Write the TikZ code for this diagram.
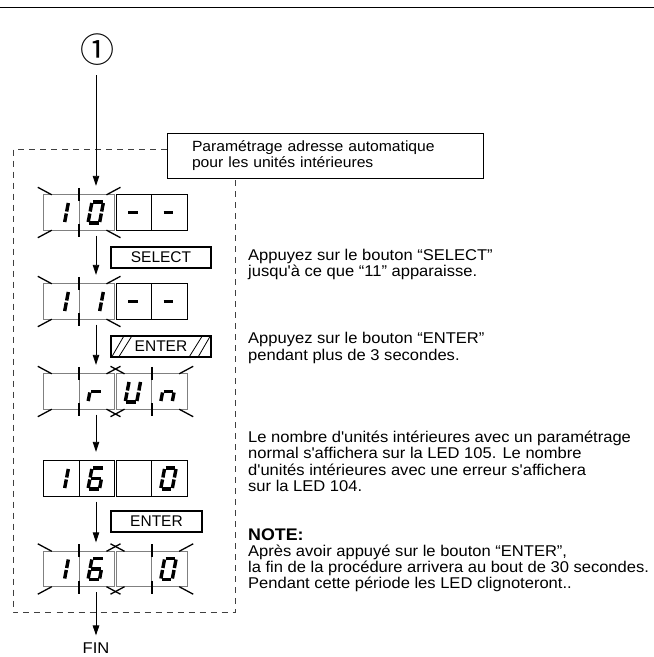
\documentclass[tikz,border=0pt]{standalone}
\usepackage{fontspec}
\usepackage{tikz}
\usetikzlibrary{arrows.meta, calc, positioning}
\newfontfamily\notefont{Liberation Sans}[FakeStretch=1.06]
\newfontfamily\keyfont{Liberation Sans}
\newfontfamily\symfont{Noto Sans CJK JP}
\definecolor{blinkgray}{gray}{0.5}
\definecolor{framegray}{gray}{0.25}

\tikzset{
  panel/.style={minimum width=143pt, minimum height=35pt, inner sep=0pt},
  onbox/.style={draw=black, line width=1.2pt},
  blinkline/.style={draw=blinkgray, line width=1pt},
  tick/.style={draw=black, line width=1.4pt},
  ray/.style={draw=black, line width=1.3pt},
  seg/.style={line width=3.4pt, shorten <=1pt, shorten >=1pt},
  flow/.style={-{Triangle[length=10pt,width=6.5pt]}, line width=0.9pt, shorten <=5.5pt, shorten >=9pt},
  key/.style={draw, line width=1.4pt, minimum width=100pt, minimum height=21pt, inner sep=0pt, font=\keyfont\fontsize{15.5}{16}\selectfont},
  hatch/.style={line width=0.8pt},
  note/.style={anchor=west, inner sep=0pt, align=left, font=\notefont\fontsize{15.6}{16.3}\selectfont},
  frame/.style={draw=framegray, line width=1pt, dash pattern=on 6pt off 5pt},
}

% one LED digit: panel, x offset from panel centre, lit segments
\newcommand{\ledchar}[3]{%
  \if\relax\detokenize{#3}\relax\else
  \begin{scope}[shift={($(#1.center)+(#2,0)$)}]
    \coordinate (a1) at (-4.5,-10.5); \coordinate (a2) at (7,-10.5);
    \coordinate (b1) at (7,-10.5);    \coordinate (b2) at (5,0);
    \coordinate (c1) at (5,0);        \coordinate (c2) at (3,10.5);
    \coordinate (d1) at (-8.5,10.5);  \coordinate (d2) at (3,10.5);
    \coordinate (e1) at (-6.5,0);     \coordinate (e2) at (-8.5,10.5);
    \coordinate (f1) at (-4.5,-10.5); \coordinate (f2) at (-6.5,0);
    \coordinate (g1) at (-6.5,0);     \coordinate (g2) at (5,0);
    \foreach \s in {#3} {\draw[seg] (\s1) -- (\s2);}
  \end{scope}\fi}
\newcommand{\ledrow}[5]{%
  \ledchar{#1}{-54}{#2}\ledchar{#1}{-19}{#3}\ledchar{#1}{18.2}{#4}\ledchar{#1}{53.7}{#5}}

% blinking pair of cells
\newcommand{\blinkgroup}[2]{%
  \coordinate (gnw) at (#1); \coordinate (gse) at (#2);
  \coordinate (gne) at (gnw -| gse); \coordinate (gsw) at (gnw |- gse);
  \coordinate (gnm) at ($(gnw)!0.5!(gne)$); \coordinate (gsm) at ($(gsw)!0.5!(gse)$);
  \draw[blinkline] (gnw) rectangle (gse) (gnm) -- (gsm);
  \draw[tick] ($(gnm)+(0,-7)$) -- ++(0,13) ($(gsm)+(0,-6)$) -- ++(0,13);
  \draw[ray] ($(gnw)+(8,0)$) -- ++(-14,-7.5) ($(gne)+(-8,0)$) -- ++(14,-7.5)
    ($(gsw)+(8,0)$) -- ++(-14,7.5) ($(gse)+(-8,0)$) -- ++(14,7.5);}
% steady pair of cells
\newcommand{\ongroup}[2]{%
  \coordinate (gnw) at (#1); \coordinate (gse) at (#2);
  \draw[onbox] (gnw) rectangle (gse) ($(gnw)!0.5!(gnw -| gse)$) -- ($(gnw |- gse)!0.5!(gse)$);}

\begin{document}
\begin{tikzpicture}[x=1pt, y=-1pt]
\useasboundingbox (0,0) rectangle (654,657);
\draw[line width=1.6pt] (0,7.3) -- (654,7.3);

\coordinate (axis) at (96,0);
\node[inner sep=0pt, font=\symfont\fontsize{34}{34}\selectfont] (start) at (97,50) {①};

% dashed frame and its label
\node[draw, line width=1pt, minimum width=316pt, minimum height=45pt, text width=266pt, inner xsep=25pt, inner ysep=0pt, align=left, font=\notefont\fontsize{14.8}{15.5}\selectfont] (lbl) at (325,155.5) {Paramétrage adresse automatique\\pour les unités intérieures};
\coordinate (ftl) at (13,149);
\coordinate (fbr) at (235,612);
\draw[frame] (ftl -| lbl.west) -- (ftl) -- (ftl |- fbr) -- (fbr) -- (fbr |- lbl.south);

% displays
\node[panel] (show10) at (115.5,212.5) {};
\node[panel] (show11) at (115.5,301.5) {};
\node[panel] (showrun) at (115.5,391.5) {};
\node[panel] (showsum) at (115.5,478.5) {};
\node[panel] (showend) at (115.5,569) {};

\blinkgroup{show10.north west}{[xshift=-1pt]show10.south}
\ongroup{[xshift=1pt]show10.north}{show10.south east}
\ledrow{show10}{b,c}{a,b,c,d,e,f}{g}{g}

\blinkgroup{show11.north west}{[xshift=-1pt]show11.south}
\ongroup{[xshift=1pt]show11.north}{show11.south east}
\ledrow{show11}{b,c}{b,c}{g}{g}

\blinkgroup{showrun.north west}{[xshift=-1pt]showrun.south}
\blinkgroup{[xshift=1pt]showrun.north}{showrun.south east}
\ledrow{showrun}{}{e,g}{b,c,d,e,f}{c,e,g}

\ongroup{showsum.north west}{[xshift=-1pt]showsum.south}
\ongroup{[xshift=1pt]showsum.north}{showsum.south east}
\ledrow{showsum}{b,c}{a,c,d,e,f,g}{}{a,b,c,d,e,f}

\blinkgroup{showend.north west}{[xshift=-1pt]showend.south}
\blinkgroup{[xshift=1pt]showend.north}{showend.south east}
\ledrow{showend}{b,c}{a,c,d,e,f,g}{}{a,b,c,d,e,f}

% buttons
\node[key] (select) at (161,257.5) {SELECT};
\node[key] (enter) at (161,346.5) {ENTER};
\draw[hatch] ($(enter.south west)+(1,0)$) -- ($(enter.north west)+(14,0)$)
  ($(enter.south west)+(8,0)$) -- ($(enter.north west)+(22,0)$)
  ($(enter.south east)+(-23,0)$) -- ($(enter.north east)+(-9,0)$)
  ($(enter.south east)+(-14,0)$) -- ($(enter.north east)+(-1,0)$);
\node[key, minimum width=91pt] (enter2) at (156.5,521.5) {ENTER};

\node[inner sep=0pt, font=\notefont\fontsize{15.6}{16}\selectfont] (fin) at (96,648) {FIN};

% flow
\draw[flow, shorten <=9pt] (start.south -| axis) -- (show10.north -| axis);
\draw[flow] (show10.south -| axis) -- (show11.north -| axis);
\draw[flow] (show11.south -| axis) -- (showrun.north -| axis);
\draw[flow] (showrun.south -| axis) -- (showsum.north -| axis);
\draw[flow] (showsum.south -| axis) -- (showend.north -| axis);
\draw[flow, shorten >=7pt] (showend.south -| axis) -- (fin.north);

% explanations
\node[note] (txtselect) at (248,264.5) {Appuyez sur le bouton “SELECT”\\jusqu'à ce que “11” apparaisse.};
\node[note] (txtenter) at (248,348) {Appuyez sur le bouton “ENTER”\\pendant plus de 3 secondes.};
\node[note] (txtcount) at (248,461.4) {Le nombre d'unités intérieures avec un paramétrage\\normal s'affichera sur la LED 105. Le nombre\\d'unités intérieures avec une erreur s'affichera\\sur la LED 104.};
\node[note, font=\notefont\fontsize{15.6}{16}\selectfont] (txtnote) at (248,560.6) {{\bfseries\fontsize{16.8}{16}\selectfont NOTE:}\\Après avoir appuyé sur le bouton “ENTER”,\\la fin de la procédure arrivera au bout de 30 secondes.\\Pendant cette période les LED clignoteront..};
\end{tikzpicture}
\end{document}
